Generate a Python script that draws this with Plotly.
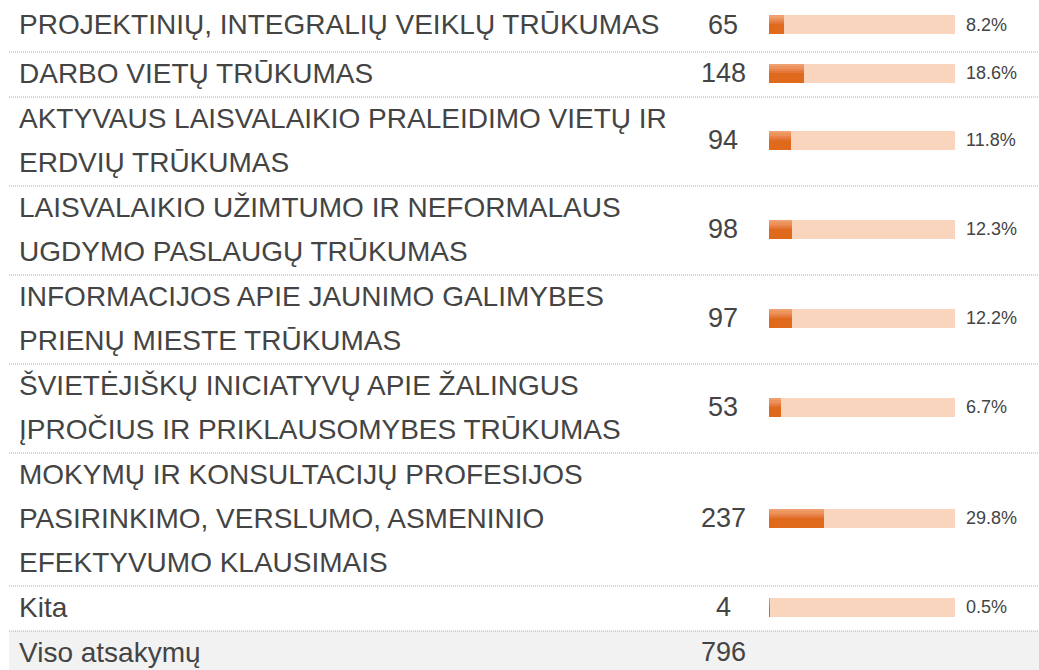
import plotly.graph_objects as go

# Survey answers: label lines, response counts
labels = [
    "PROJEKTINIŲ, INTEGRALIŲ VEIKLŲ TRŪKUMAS",
    "DARBO VIETŲ TRŪKUMAS",
    "AKTYVAUS LAISVALAIKIO PRALEIDIMO VIETŲ IR<br>ERDVIŲ TRŪKUMAS",
    "LAISVALAIKIO UŽIMTUMO IR NEFORMALAUS<br>UGDYMO PASLAUGŲ TRŪKUMAS",
    "INFORMACIJOS APIE JAUNIMO GALIMYBES<br>PRIENŲ MIESTE TRŪKUMAS",
    "ŠVIETĖJIŠKŲ INICIATYVŲ APIE ŽALINGUS<br>ĮPROČIUS IR PRIKLAUSOMYBES TRŪKUMAS",
    "MOKYMŲ IR KONSULTACIJŲ PROFESIJOS<br>PASIRINKIMO, VERSLUMO, ASMENINIO<br>EFEKTYVUMO KLAUSIMAIS",
    "Kita",
]
counts = [65, 148, 94, 98, 97, 53, 237, 4]
total_label = "Viso atsakymų"
total = sum(counts)
percents = [round(c / total * 100, 1) for c in counts]

# ---- layout constants (pixels) ----
W, H = 1039, 670
LINE_H = 44
TOP_EXTRA = 7
LABEL_X = 17
COUNT_X = 723
PCT_X = 964
BAR_X0, BAR_X1 = 769, 955
BAR_H = 19
TEXT_COLOR = "#444444"
FONT = "Liberation Sans, Arial, sans-serif"
LABEL_SIZE = 28
COUNT_SIZE = 27
PCT_SIZE = 18

# row geometry derived from how many lines each label takes
line_lists = [lab.split("<br>") for lab in labels]
heights = [LINE_H * len(ls) + 1 for ls in line_lists]
heights[0] += TOP_EXTRA
starts, y = [], 0
for h in heights:
    starts.append(y)
    y += h
centers = [s + h / 2 - 1.5 for s, h in zip(starts, heights)]
total_start = y
total_center = total_start + (LINE_H + 1) / 2 - 1.5

fig = go.Figure()

# track bars (100 %)
fig.add_trace(go.Bar(
    x=[100] * len(counts), y=centers, orientation="h", width=BAR_H,
    marker=dict(color="#F9D5BE", line=dict(width=0)),
    xaxis="x2", yaxis="y", hoverinfo="skip", showlegend=False,
))
# value bars, built from stacked shading bands for a soft top highlight
bands = [
    (BAR_H, 0.0, "#E06A1C"),
    (2.5, 0.0, "#EEA070"),
    (2.5, 2.5, "#EC925B"),
    (2.5, 5.0, "#E9834A"),
    (1.5, 7.5, "#E47539"),
]
for w, off, col in bands:
    fig.add_trace(go.Bar(
        x=percents, y=centers, orientation="h", width=w,
        offset=-BAR_H / 2 + off,
        marker=dict(color=col, line=dict(width=0)),
        xaxis="x2", yaxis="y", hoverinfo="skip", showlegend=False,
    ))

annotations = []
for lines, c in zip(line_lists, centers):
    n = len(lines)
    for i, ln in enumerate(lines):
        annotations.append(dict(
            x=LABEL_X / W, xref="paper", y=c + (i - (n - 1) / 2) * LINE_H, yref="y",
            text=ln, showarrow=False, xanchor="left", yanchor="middle",
            font=dict(family=FONT, size=LABEL_SIZE, color=TEXT_COLOR),
        ))
for cnt, pct, c in zip(counts, percents, centers):
    annotations.append(dict(
        x=COUNT_X / W, xref="paper", y=c, yref="y", text=str(cnt),
        showarrow=False, xanchor="center", yanchor="middle",
        font=dict(family=FONT, size=COUNT_SIZE, color=TEXT_COLOR),
    ))
    annotations.append(dict(
        x=PCT_X / W, xref="paper", y=c, yref="y", text=f"{pct:.1f}%",
        showarrow=False, xanchor="left", yanchor="middle",
        font=dict(family=FONT, size=PCT_SIZE, color=TEXT_COLOR),
    ))
annotations.append(dict(
    x=LABEL_X / W, xref="paper", y=total_center, yref="y", text=total_label,
    showarrow=False, xanchor="left", yanchor="middle",
    font=dict(family=FONT, size=LABEL_SIZE, color=TEXT_COLOR),
))
annotations.append(dict(
    x=COUNT_X / W, xref="paper", y=total_center, yref="y", text=str(total),
    showarrow=False, xanchor="center", yanchor="middle",
    font=dict(family=FONT, size=COUNT_SIZE, color=TEXT_COLOR),
))

shapes = [dict(
    type="rect", xref="paper", yref="y", x0=9 / W, x1=1, y0=total_start, y1=total_start + 60,
    fillcolor="#F2F2F2", line=dict(width=0), layer="below",
)]
for s, h in zip(starts, heights):
    shapes.append(dict(
        type="line", xref="paper", yref="y", x0=9 / W, x1=1, y0=s + h, y1=s + h,
        line=dict(color="#AAAAAA", width=1, dash="1px,1px"),
    ))

fig.update_layout(
    width=W, height=H, margin=dict(l=0, r=0, t=0, b=0),
    paper_bgcolor="white", plot_bgcolor="white",
    barmode="overlay", bargap=0,
    xaxis=dict(range=[0, W], visible=False, fixedrange=True),
    xaxis2=dict(range=[0, 100], domain=[BAR_X0 / W, BAR_X1 / W], visible=False,
                anchor="y", fixedrange=True),
    yaxis=dict(range=[H, 0], visible=False, fixedrange=True),
    annotations=annotations, shapes=shapes, showlegend=False,
)

fig.write_html("out.html")
